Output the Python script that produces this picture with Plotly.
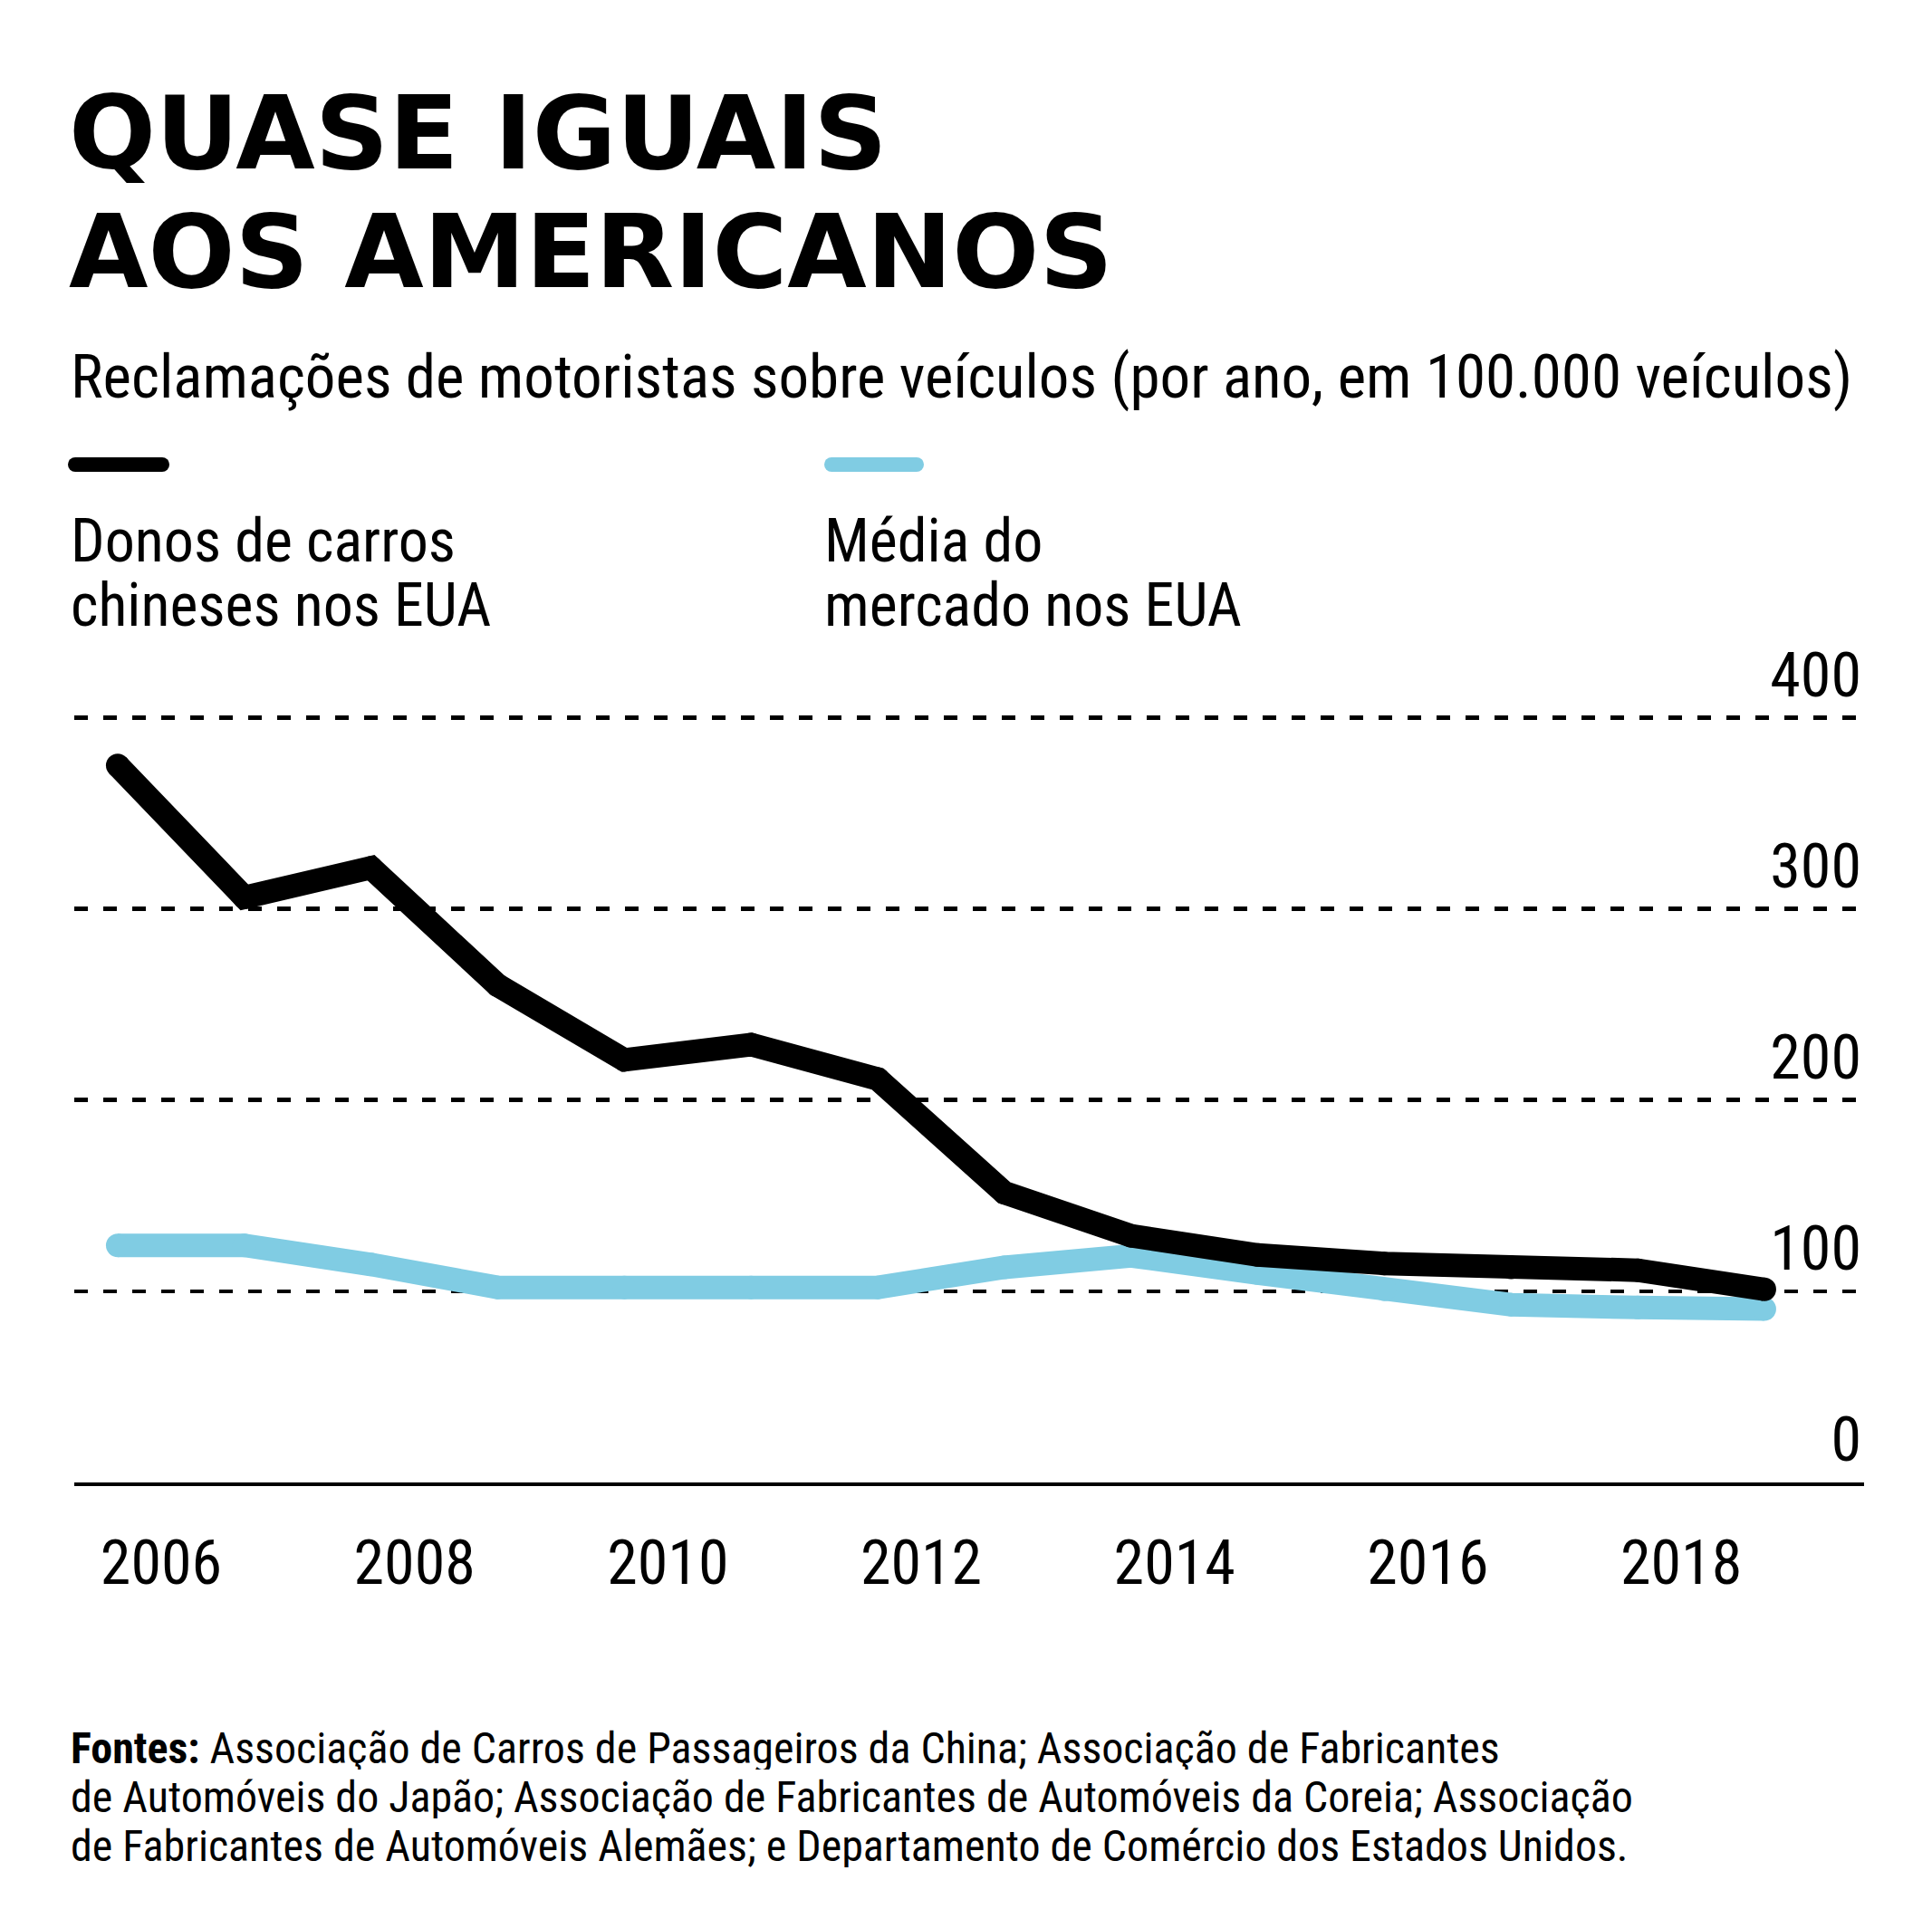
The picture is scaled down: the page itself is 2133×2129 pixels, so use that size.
import plotly.graph_objects as go

# ---------------- data ----------------
years = [2006, 2007, 2008, 2009, 2010, 2011, 2012, 2013, 2014, 2015, 2016, 2017, 2018, 2019]
chinese_cars = [375, 306, 321.5, 260, 221, 229, 211, 151.5, 129, 119, 114.5, 112.5, 111, 101]
market_avg = [124, 124, 114, 102, 102, 102, 102, 112.5, 118.5, 109.5, 101, 93, 91.5, 90.7]
x_ticks = [2006, 2008, 2010, 2012, 2014, 2016, 2018]
y_ticks = [0, 100, 200, 300, 400]

title_lines = ["QUASE IGUAIS", "AOS AMERICANOS"]
subtitle = "Reclamações de motoristas sobre veículos (por ano, em 100.000 veículos)"
legend_black = ["Donos de carros", "chineses nos EUA"]
legend_blue = ["Média do", "mercado nos EUA"]
footer_lines = [
    "<b>Fontes:</b> Associação de Carros de Passageiros da China; Associação de Fabricantes",
    "de Automóveis do Japão; Associação de Fabricantes de Automóveis da Coreia; Associação",
    "de Fabricantes de Automóveis Alemães; e Departamento de Comércio dos Estados Unidos.",
]

BLACK = "#000000"
BLUE = "#80CCE3"
TXT = "Liberation Sans Narrow, Arial Narrow, Roboto Condensed, sans-serif"
TITLE_FONT = "DejaVu Sans, Arial Black, sans-serif"

W, H = 2133, 2129
L, R, T, B = 82, 2058, 700, 1637


def px(p):
    return (p - L) / (R - L)


def py(p):
    return (B - p) / (B - T)


fig = go.Figure()
fig.add_trace(go.Scatter(
    x=years, y=market_avg, mode="lines+markers",
    line=dict(color=BLUE, width=26), marker=dict(color=BLUE, size=26),
    hoverinfo="skip", showlegend=False,
))
fig.add_trace(go.Scatter(
    x=years, y=chinese_cars, mode="lines+markers",
    line=dict(color=BLACK, width=26), marker=dict(color=BLACK, size=26),
    hoverinfo="skip", showlegend=False,
))

annotations = []


def text(s, x, ycap, size, family=TXT, weight="normal", color=BLACK, box=None):
    # ycap: vertical centre of capital letters in pixels
    a = dict(
        text=s, x=px(x), y=py(ycap + 0.05 * size), xref="paper", yref="paper",
        xanchor="left", yanchor="middle", showarrow=False,
        font=dict(family=family, size=size, color=color, weight=weight),
    )
    if box:
        a["height"] = box
        a["valign"] = "middle"
    annotations.append(a)


text(title_lines[0], 74, 141, 113, family=TITLE_FONT, weight="bold", box=110)
text(title_lines[1], 74, 272, 113, family=TITLE_FONT, weight="bold", box=110)
text(subtitle, 76, 413, 67)
text(legend_black[0], 76, 594, 66, box=62)
text(legend_black[1], 76, 665, 66, box=62)
text(legend_blue[0], 908, 594, 66, box=62)
text(legend_blue[1], 908, 665, 66, box=62)
for i, line in enumerate(footer_lines):
    text(line, 76, 1928 + 54 * i, 48, box=48)

shapes = []
for x0, x1, col in [(75, 187, BLACK), (910, 1020, BLUE)]:
    r = 8
    shapes.append(dict(type="line", xref="paper", yref="paper",
                       x0=px(x0 + r), x1=px(x1 - r), y0=py(513), y1=py(513),
                       line=dict(color=col, width=16)))
    for cx in (x0 + r, x1 - r):
        shapes.append(dict(type="circle", xref="paper", yref="paper",
                           x0=px(cx - r), x1=px(cx + r), y0=py(513 - r), y1=py(513 + r),
                           fillcolor=col, line=dict(width=0)))

fig.update_layout(
    width=W, height=H, autosize=False,
    margin=dict(l=L, r=W - R, t=T, b=H - B, pad=0),
    paper_bgcolor="white", plot_bgcolor="white",
    annotations=annotations, shapes=shapes,
    font=dict(family=TXT, color=BLACK),
    xaxis=dict(
        range=[2005.657, 2019.787], tickvals=x_ticks, ticktext=[str(v) for v in x_ticks],
        showgrid=False, zeroline=False, showline=True, linecolor=BLACK, linewidth=4,
        ticks="", tickfont=dict(family=TXT, size=68, color=BLACK),
        ticklabelshift=48, ticklabelstandoff=26, fixedrange=True,
    ),
    yaxis=dict(
        range=[0, 443.8], tickvals=y_ticks, ticktext=[str(v) for v in y_ticks],
        side="right", ticklabelposition="inside top",
        showgrid=True, gridcolor=BLACK, gridwidth=4.5, griddash="15px,17px",
        zeroline=False, showline=False, ticks="",
        tickfont=dict(family=TXT, size=68, color=BLACK), fixedrange=True,
    ),
)

fig.write_html("out.html", config={"displayModeBar": False, "staticPlot": True},
               post_script="document.body.style.margin='0';")
